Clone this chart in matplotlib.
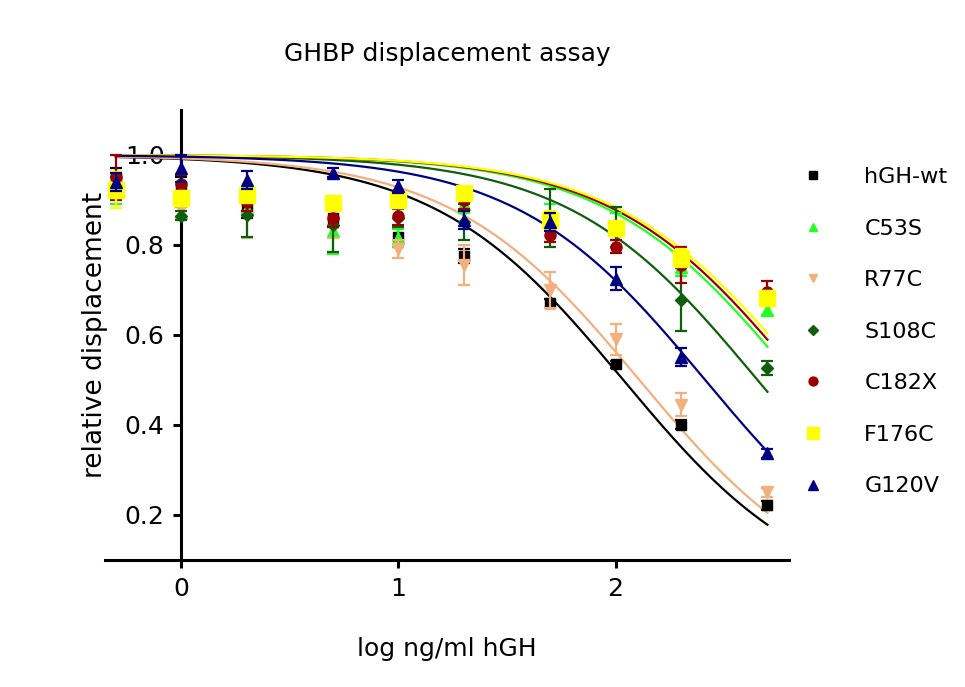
import numpy as np
import matplotlib
matplotlib.use("Agg")
import matplotlib.pyplot as plt
from matplotlib.lines import Line2D

# ------------------------------------------
# Data (log ng/ml hGH vs relative displacement)
# ------------------------------------------
log_conc = [-0.301, 0.0, 0.301, 0.699, 1.0, 1.301, 1.699, 2.0, 2.301, 2.699]

names = ["hGH-wt", "C53S", "R77C", "S108C", "C182X", "F176C", "G120V"]

hgh_wt = [0.95, 0.93, 0.88, 0.86, 0.818, 0.775, 0.67, 0.535, 0.40, 0.222]
hgh_wt_err = [0.02, 0.02, 0.02, 0.02, 0.023, 0.015, 0.01, 0.008, 0.01, 0.01]

c53s = [0.92, 0.87, 0.88, 0.83, 0.815, 0.89, 0.86, 0.84, 0.75, 0.655]
c53s_err = [0.03, 0.015, 0.01, 0.05, 0.02, 0.02, 0.03, 0.03, 0.02, 0.01]

r77c = [0.93, 0.88, 0.865, 0.85, 0.79, 0.755, 0.70, 0.59, 0.445, 0.25]
r77c_err = [0.02, 0.02, 0.05, 0.035, 0.02, 0.045, 0.04, 0.035, 0.025, 0.01]

s108c = [0.93, 0.865, 0.867, 0.845, 0.86, 0.85, 0.86, 0.84, 0.678, 0.527]
s108c_err = [0.02, 0.01, 0.05, 0.06, 0.02, 0.04, 0.065, 0.045, 0.07, 0.015]

c182x = [0.95, 0.935, 0.896, 0.86, 0.865, 0.90, 0.822, 0.796, 0.755, 0.695]
c182x_err = [0.05, 0.02, 0.02, 0.02, 0.02, 0.02, 0.015, 0.015, 0.04, 0.025]

f176c = [0.922, 0.905, 0.91, 0.893, 0.90, 0.915, 0.856, 0.837, 0.77, 0.682]
f176c_err = [0.04, 0.015, 0.01, 0.015, 0.01, 0.01, 0.02, 0.015, 0.02, 0.015]

g120v = [0.94, 0.97, 0.945, 0.96, 0.93, 0.855, 0.85, 0.725, 0.552, 0.337]
g120v_err = [0.02, 0.03, 0.02, 0.01, 0.015, 0.02, 0.02, 0.025, 0.02, 0.01]

# fitted logIC50 of each curve (top = 1, bottom = 0, hill slope = 1)
log_ic50 = [2.035, 2.828, 2.109, 2.653, 2.856, 2.88, 2.412]

values = [hgh_wt, c53s, r77c, s108c, c182x, f176c, g120v]
errors = [hgh_wt_err, c53s_err, r77c_err, s108c_err, c182x_err, f176c_err, g120v_err]

colors = ["#000000", "#22FF22", "#F4B07C", "#0E5E0E", "#9A0000", "#FFFF00", "#000080"]
markers = ["s", "^", "v", "D", "o", "s", "^"]
msizes = [7, 8, 8, 6, 8, 11, 9]

# ------------------------------------------
# Plot
# ------------------------------------------
fig = plt.figure(figsize=(9.65, 6.87), dpi=100)
ax = fig.add_axes([0.109, 0.185, 0.709, 0.655])

x_fit = np.linspace(log_conc[0], log_conc[-1], 200)

for i, name in enumerate(names):
    y_fit = 1.0 / (1.0 + 10 ** (x_fit - log_ic50[i]))
    ax.plot(x_fit, y_fit, color=colors[i], lw=1.6, zorder=2 + i)
    ax.errorbar(log_conc, values[i], yerr=errors[i], fmt=markers[i],
                color=colors[i], ms=msizes[i], elinewidth=1.6, capsize=4.5,
                capthick=1.6, zorder=10 + i)

ax.set_xlim(-0.35, 2.8)
ax.set_ylim(0.1, 1.1)
ax.set_xticks([0, 1, 2])
ax.set_yticks([0.2, 0.4, 0.6, 0.8, 1.0])
ax.set_yticklabels(["0.2", "0.4", "0.6", "0.8", "1.0"])

ax.spines["top"].set_visible(False)
ax.spines["right"].set_visible(False)
ax.spines["left"].set_position(("data", 0))
ax.spines["left"].set_linewidth(2.2)
ax.spines["bottom"].set_linewidth(2.2)
ax.tick_params(direction="out", length=6, width=2.2, labelsize=18, pad=6)

ax.set_title("GHBP displacement assay", fontsize=18, pad=35)
ax.set_xlabel("log ng/ml hGH", fontsize=18, labelpad=26)
fig.text(0.098, 0.512, "relative displacement", rotation=90,
         ha="center", va="center", fontsize=19)

handles = [Line2D([], [], ls="none", marker=markers[i], color=colors[i],
                  ms=msizes[i] * 0.8) for i in range(len(names))]
fig.legend(handles, names, loc="upper left", bbox_to_anchor=(0.799, 0.786),
           frameon=False, fontsize=16, labelspacing=1.42, handletextpad=1.3)

plt.savefig("out.png", dpi=100, facecolor="white")
